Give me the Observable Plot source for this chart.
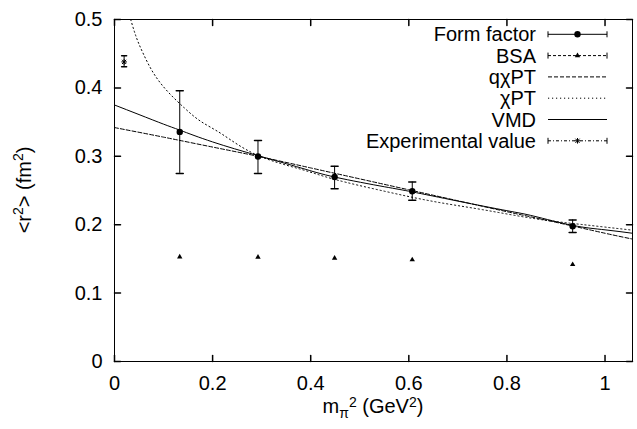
<!DOCTYPE html>
<html><head><meta charset="utf-8">
<script src="https://cdn.jsdelivr.net/npm/d3@7"></script>
<script src="https://cdn.jsdelivr.net/npm/@observablehq/plot@0.6"></script>
<style>body{margin:0;background:#fff} svg{display:block}</style>
</head><body><div id="chart"></div>
<script>
// ---- data ----
const xTicks = [0, 0.2, 0.4, 0.6, 0.8, 1];
const yTicks = [0, 0.1, 0.2, 0.3, 0.4, 0.5];
const xDomain = [0, 1.056];
const yDomain = [0, 0.5];

const ffX  = [0.133, 0.2925, 0.4487, 0.607, 0.934];
const ffY  = [0.3357, 0.2998, 0.2697, 0.2488, 0.1978];
const ffLo = [0.275, 0.275, 0.2526, 0.2357, 0.1885];
const ffHi = [0.396, 0.323, 0.2853, 0.2624, 0.207];

const bsaX = [0.133, 0.2925, 0.4487, 0.607, 0.934];
const bsaY = [0.153, 0.1525, 0.151, 0.1487, 0.1418];

const expX  = [0.0196];
const expY  = [0.438];
const expLo = [0.431];
const expHi = [0.447];

const qchiX = [0, 0.1, 0.2, 0.2925, 0.4, 0.5, 0.6, 0.7, 0.8, 0.9, 1.0, 1.056];
const qchiY = [0.342, 0.328, 0.3135, 0.300, 0.283, 0.267, 0.251, 0.235, 0.219, 0.2035, 0.1875, 0.179];

const chiX = [0.033, 0.045, 0.060, 0.080, 0.108, 0.142, 0.176, 0.22, 0.29, 0.38, 0.45, 0.55, 0.65, 0.75, 0.855, 0.95, 1.056];
const chiY = [0.500, 0.473, 0.448, 0.421, 0.395, 0.371, 0.351, 0.332, 0.302, 0.281, 0.266, 0.249, 0.234, 0.222, 0.209, 0.2005, 0.192];

const vmdX = [0, 0.05, 0.1, 0.134, 0.2, 0.2925, 0.38, 0.45, 0.55, 0.607, 0.7, 0.8, 0.855, 0.934, 1.0, 1.056];
const vmdY = [0.375, 0.361, 0.347, 0.338, 0.321, 0.301, 0.283, 0.2695, 0.2555, 0.248, 0.2345, 0.2205, 0.2125, 0.199, 0.1925, 0.1875];

const legendNames = ["Form factor", "BSA", "q\u03C7PT", "\u03C7PT", "VMD", "Experimental value"];

// ---- tables ----
const ff  = ffX.map((x, i) => ({x, y: ffY[i], lo: ffLo[i], hi: ffHi[i]}));
const bsa = bsaX.map((x, i) => ({x, y: bsaY[i]}));
const exp = expX.map((x, i) => ({x, y: expY[i], lo: expLo[i], hi: expHi[i]}));
const qchi = qchiX.map((x, i) => ({x, y: qchiY[i]}));
const chi  = chiX.map((x, i) => ({x, y: chiY[i]}));
const vmd  = vmdX.map((x, i) => ({x, y: vmdY[i]}));

const tickShape = {draw(c, l) { c.moveTo(0, 0); c.lineTo(0, -l); }};
const capShape  = {draw(c, l) { c.moveTo(0, -l / 2); c.lineTo(0, l / 2); }};
const starSymbol = {draw(c, size) {
  const r = Math.sqrt(size / Math.PI), d = r * 0.75;
  c.moveTo(-r, 0); c.lineTo(r, 0); c.moveTo(0, -r); c.lineTo(0, r);
  c.moveTo(-d, -d); c.lineTo(d, d); c.moveTo(-d, d); c.lineTo(d, -d);
}};

const FONT = "'Liberation Sans', Arial, Helvetica, sans-serif";

const chart = Plot.plot({
  width: 637, height: 429,
  marginLeft: 114, marginRight: 5, marginTop: 19, marginBottom: 68,
  style: {fontFamily: FONT, fontSize: "20px", background: "white", color: "black"},
  x: {domain: xDomain},
  y: {domain: yDomain},
  marks: [
    Plot.frame({stroke: "black", strokeWidth: 1}),
    // inward ticks on all four sides
    Plot.vector(xTicks, {x: d => d, y: yDomain[0], length: 6, rotate: 0, anchor: "start", shape: tickShape, stroke: "black"}),
    Plot.vector(xTicks, {x: d => d, y: yDomain[1], length: 6, rotate: 180, anchor: "start", shape: tickShape, stroke: "black"}),
    Plot.vector(yTicks, {x: xDomain[0], y: d => d, length: 6, rotate: 90, anchor: "start", shape: tickShape, stroke: "black"}),
    Plot.vector(yTicks, {x: xDomain[1], y: d => d, length: 6, rotate: 270, anchor: "start", shape: tickShape, stroke: "black"}),
    Plot.axisX({ticks: xTicks, tickSize: 0, tickPadding: 14, tickFormat: d => String(d), label: null, fill: "black"}),
    Plot.axisY({ticks: yTicks, tickSize: 0, tickPadding: 12, tickFormat: d => String(d), label: null, fill: "black"}),
    // curves
    Plot.line(qchi, {x: "x", y: "y", curve: "natural", stroke: "black", strokeWidth: 1, strokeDasharray: "4,2", clip: true}),
    Plot.line(chi,  {x: "x", y: "y", curve: "natural", stroke: "black", strokeWidth: 1, strokeDasharray: "1.2,2.8", clip: true}),
    Plot.line(vmd,  {x: "x", y: "y", curve: "natural", stroke: "black", strokeWidth: 1, clip: true}),
    // form factor with error bars
    Plot.ruleX(ff, {x: "x", y1: "lo", y2: "hi", stroke: "black", strokeWidth: 1}),
    Plot.vector(ff, {x: "x", y: "lo", length: 7, rotate: 90, anchor: "start", shape: capShape, stroke: "black"}),
    Plot.vector(ff, {x: "x", y: "hi", length: 7, rotate: 90, anchor: "start", shape: capShape, stroke: "black"}),
    Plot.dot(ff, {x: "x", y: "y", r: 3.2, fill: "black", stroke: null}),
    // BSA
    Plot.dot(bsa, {x: "x", y: "y", r: 2, symbol: "triangle", fill: "black", stroke: null}),
    // experimental value
    Plot.ruleX(exp, {x: "x", y1: "lo", y2: "hi", stroke: "black", strokeWidth: 1}),
    Plot.vector(exp, {x: "x", y: "lo", length: 5, rotate: 90, anchor: "start", shape: capShape, stroke: "black"}),
    Plot.vector(exp, {x: "x", y: "hi", length: 5, rotate: 90, anchor: "start", shape: capShape, stroke: "black"}),
    Plot.dot(exp, {x: "x", y: "y", r: 2.8, symbol: starSymbol, stroke: "black", strokeWidth: 1, fill: "none"})
  ]
});

const svg = d3.select(chart);

// axis titles
const xt = svg.append("text").attr("x", 373).attr("y", 413).attr("text-anchor", "middle")
  .attr("fill", "black").style("font-family", FONT).style("font-size", "20px");
xt.append("tspan").text("m");
xt.append("tspan").attr("dy", "5").style("font-size", "14px").text("\u03C0");
xt.append("tspan").attr("dy", "-11").style("font-size", "14px").text("2");
xt.append("tspan").attr("dy", "6").text(" (GeV");
xt.append("tspan").attr("dy", "-6").style("font-size", "14px").text("2");
xt.append("tspan").attr("dy", "6").text(")");

const yt = svg.append("text").attr("transform", "translate(31,190) rotate(-90)").attr("text-anchor", "middle")
  .attr("fill", "black").style("font-family", FONT).style("font-size", "20px");
yt.append("tspan").text("<r");
yt.append("tspan").attr("dy", "-8").style("font-size", "14px").text("2");
yt.append("tspan").attr("dy", "8").text("> (fm");
yt.append("tspan").attr("dy", "-8").style("font-size", "14px").text("2");
yt.append("tspan").attr("dy", "8").text(")");

// legend
const lg = svg.append("g").attr("stroke", "black").attr("fill", "none");
const lx1 = 548, lx2 = 607, lxm = (lx1 + lx2) / 2, ltx = 536;
const dashes = [null, "3,2", "4,2", "1.2,2.8", null, "3,2,1,2"];
legendNames.forEach((name, i) => {
  const y = 34.3 + 21.3 * i;
  svg.append("text").attr("x", ltx).attr("y", y).attr("dy", "0.35em").attr("text-anchor", "end")
    .attr("fill", "black").style("font-family", FONT).style("font-size", "20px").text(name);
  const ln = lg.append("line").attr("x1", lx1).attr("x2", lx2).attr("y1", y).attr("y2", y).attr("stroke-width", 1);
  if (dashes[i]) ln.attr("stroke-dasharray", dashes[i]);
  if (i === 0 || i === 1 || i === 5) {
    lg.append("line").attr("x1", lx1).attr("x2", lx1).attr("y1", y - 3).attr("y2", y + 3);
    lg.append("line").attr("x1", lx2).attr("x2", lx2).attr("y1", y - 3).attr("y2", y + 3);
  }
  if (i === 0) lg.append("circle").attr("cx", lxm).attr("cy", y).attr("r", 3.2).attr("fill", "black").attr("stroke", "none");
  if (i === 1) lg.append("path").attr("transform", `translate(${lxm},${y})`).attr("d", d3.symbol(d3.symbolTriangle, 4 * Math.PI)()).attr("fill", "black").attr("stroke", "none");
  if (i === 5) lg.append("path").attr("transform", `translate(${lxm},${y})`).attr("d", d3.symbol(starSymbol, 2.8 * 2.8 * Math.PI)());
});

document.getElementById("chart").appendChild(chart);
</script>
</body></html>
